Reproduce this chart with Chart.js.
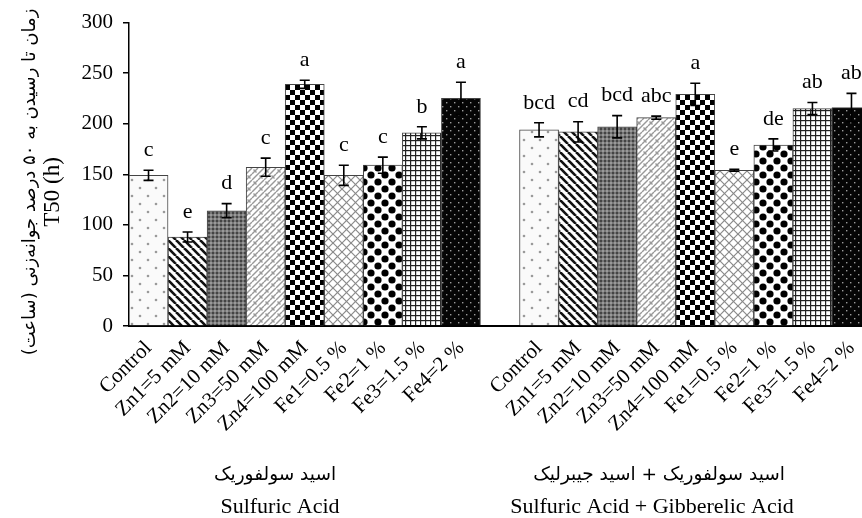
<!DOCTYPE html>
<html>
<head>
<meta charset="utf-8">
<script src="https://cdn.jsdelivr.net/npm/chart.js@4.4.1/dist/chart.umd.min.js"></script>
<style>
  html, body { margin: 0; padding: 0; background: #fff; overflow: hidden; }
  #wrap { width: 872px; height: 518px; }
</style>
</head>
<body>
<div id="wrap"><canvas id="chart" width="872" height="518"></canvas></div>
<script>
// Treatments (same order in both groups)
const categories = ['Control', 'Zn1=5 mM', 'Zn2=10 mM', 'Zn3=50 mM', 'Zn4=100 mM',
                    'Fe1=0.5 %', 'Fe2=1 %', 'Fe3=1.5 %', 'Fe4=2 %'];

// Sulfuric acid
const sulfuric = [149, 88, 114, 157, 239, 149, 159, 191, 225];
const sulfuricErr = [5, 5, 7, 9, 4, 10, 8, 6, 16];
const sulfuricLetters = ['c', 'e', 'd', 'c', 'a', 'c', 'c', 'b', 'a'];

// Sulfuric acid + gibberellic acid
const sulfuricGA = [194, 192, 197, 206, 229, 154, 179, 215, 216];
const sulfuricGAErr = [7, 10, 11, 1.5, 11, 1, 6, 6, 14];
const sulfuricGALetters = ['bcd', 'cd', 'bcd', 'abc', 'a', 'e', 'de', 'ab', 'ab'];

const yTicks = [0, 50, 100, 150, 200, 250, 300];

const groupTitles = [
    { fa: 'اسید سولفوریک', en: 'Sulfuric Acid' },
    { fa: 'اسید سولفوریک + اسید جیبرلیک', en: 'Sulfuric Acid + Gibberelic Acid' }
];
const yTitleFa = 'زمان تا رسیدن به ۵۰ درصد جوانه‌زنی (ساعت)';
const yTitleEn = 'T50 (h)';

// one empty slot between the two groups
const labels = categories.concat([''], categories);
const values = sulfuric.concat([null], sulfuricGA);
const errors = sulfuricErr.concat([null], sulfuricGAErr);
const letters = sulfuricLetters.concat([''], sulfuricGALetters);

const SERIF = "'Liberation Serif', 'Times New Roman', serif";
const FA = "'DejaVu Sans', sans-serif";

// ---- fill patterns ----
function makePattern(size, draw) {
    const c = document.createElement('canvas');
    c.width = size;
    c.height = size;
    const g = c.getContext('2d');
    draw(g, size);
    return g.createPattern(c, 'repeat');
}

function diag(g, s, dir) {
    for (let k = -s; k <= s; k += s) {
        g.beginPath();
        if (dir > 0) { g.moveTo(k, s); g.lineTo(k + s, 0); }
        else { g.moveTo(k, 0); g.lineTo(k + s, s); }
        g.stroke();
    }
}

const patterns = [
    // Control - sparse grey dots
    makePattern(16, (g, s) => {
        g.fillStyle = '#fafafa'; g.fillRect(0, 0, s, s);
        g.fillStyle = '#9a9a9a';
        [[4, 4], [12, 12]].forEach(p => { g.beginPath(); g.arc(p[0], p[1], 1.3, 0, Math.PI * 2); g.fill(); });
    }),
    // Zn1 - wide diagonal stripes
    makePattern(8, (g, s) => {
        g.fillStyle = '#fff'; g.fillRect(0, 0, s, s);
        g.strokeStyle = '#111'; g.lineWidth = 2.6;
        diag(g, s, -1);
    }),
    // Zn2 - dark fine mesh
    makePattern(4, (g, s) => {
        g.fillStyle = '#777'; g.fillRect(0, 0, s, s);
        g.fillStyle = '#444'; g.fillRect(0, 0, 2, 2);
        g.fillStyle = '#9a9a9a'; g.fillRect(2, 2, 2, 2);
    }),
    // Zn3 - diagonal brick
    makePattern(12, (g, s) => {
        g.fillStyle = '#fff'; g.fillRect(0, 0, s, s);
        g.strokeStyle = '#999'; g.lineWidth = 1.4;
        diag(g, s, 1);
        g.beginPath(); g.moveTo(0, 6); g.lineTo(6, 0); g.stroke();
        g.beginPath(); g.moveTo(6, 12); g.lineTo(12, 6); g.stroke();
        g.beginPath(); g.moveTo(1.5, 1.5); g.lineTo(4.5, 4.5); g.stroke();
        g.beginPath(); g.moveTo(7.5, 7.5); g.lineTo(10.5, 10.5); g.stroke();
    }),
    // Zn4 - checkerboard
    makePattern(10, (g, s) => {
        g.fillStyle = '#fff'; g.fillRect(0, 0, s, s);
        g.fillStyle = '#000';
        g.fillRect(0, 0, 5, 5); g.fillRect(5, 5, 5, 5);
    }),
    // Fe1 - grey crosshatch
    makePattern(9, (g, s) => {
        g.fillStyle = '#fff'; g.fillRect(0, 0, s, s);
        g.strokeStyle = '#8a8a8a'; g.lineWidth = 1.2;
        diag(g, s, 1); diag(g, s, -1);
    }),
    // Fe2 - black diamonds
    makePattern(14, (g, s) => {
        g.fillStyle = '#fff'; g.fillRect(0, 0, s, s);
        g.fillStyle = '#000';
        [[0, 0], [s, 0], [0, s], [s, s], [7, 7]].forEach(p => {
            g.beginPath(); g.arc(p[0], p[1], 3.6, 0, Math.PI * 2); g.fill();
        });
    }),
    // Fe3 - fine grid
    makePattern(5, (g, s) => {
        g.fillStyle = '#fff'; g.fillRect(0, 0, s, s);
        g.fillStyle = '#222';
        g.fillRect(0, 0, s, 1.2); g.fillRect(0, 0, 1.2, s);
    }),
    // Fe4 - black with small light dots
    makePattern(8, (g, s) => {
        g.fillStyle = '#050505'; g.fillRect(0, 0, s, s);
        g.fillStyle = '#9a9a9a';
        g.fillRect(2, 2, 1.4, 1.4); g.fillRect(6, 6, 1.4, 1.4);
    })
];
const fills = patterns.concat([null], patterns);

// ---- error bars, letters and titles ----
const extras = {
    id: 'extras',
    afterDatasetsDraw(chart) {
        const ctx = chart.ctx;
        const y = chart.scales.y;
        const meta = chart.getDatasetMeta(0);
        ctx.save();
        meta.data.forEach((bar, i) => {
            if (values[i] == null) return;
            const top = y.getPixelForValue(values[i] + errors[i]);
            const bot = y.getPixelForValue(values[i] - errors[i]);
            ctx.strokeStyle = '#000';
            ctx.lineWidth = 1.6;
            ctx.beginPath();
            ctx.moveTo(bar.x, top); ctx.lineTo(bar.x, bot);
            ctx.moveTo(bar.x - 5, top); ctx.lineTo(bar.x + 5, top);
            ctx.moveTo(bar.x - 5, bot); ctx.lineTo(bar.x + 5, bot);
            ctx.stroke();

            ctx.fillStyle = '#000';
            ctx.font = '22px ' + SERIF;
            ctx.textAlign = 'center';
            ctx.textBaseline = 'middle';
            ctx.fillText(letters[i], bar.x, top - 20);
        });
        ctx.restore();
    },
    afterDraw(chart) {
        const ctx = chart.ctx;
        ctx.save();
        ctx.fillStyle = '#000';
        ctx.textAlign = 'center';
        ctx.textBaseline = 'middle';

        // y axis titles
        ctx.save();
        ctx.translate(30, 182);
        ctx.rotate(-Math.PI / 2);
        ctx.font = '18px ' + FA;
        ctx.direction = 'rtl';
        ctx.fillText(yTitleFa, 0, 0);
        ctx.restore();

        ctx.save();
        ctx.translate(53, 192);
        ctx.rotate(-Math.PI / 2);
        ctx.font = '23px ' + SERIF;
        ctx.fillText(yTitleEn, 0, 0);
        ctx.restore();

        // group titles under the tick labels
        const faCentres = [275, 659];
        const enCentres = [280, 652];
        groupTitles.forEach((t, k) => {
            ctx.font = '18.5px ' + FA;
            ctx.direction = 'rtl';
            ctx.fillText(t.fa, faCentres[k], 475);
            ctx.direction = 'ltr';
            ctx.font = '22px ' + SERIF;
            ctx.fillText(t.en, enCentres[k], 507);
        });
        ctx.restore();
    }
};

new Chart(document.getElementById('chart'), {
    type: 'bar',
    data: {
        labels: labels,
        datasets: [{
            data: values,
            backgroundColor: fills,
            borderColor: '#444',
            borderWidth: 1,
            barPercentage: 1,
            categoryPercentage: 1
        }]
    },
    options: {
        responsive: false,
        animation: false,
        events: [],
        layout: { padding: { top: 22, right: 1, left: 0, bottom: 0 } },
        plugins: { legend: { display: false }, tooltip: { enabled: false } },
        scales: {
            x: {
                grid: { display: false },
                border: { color: '#000', width: 2 },
                ticks: {
                    color: '#000',
                    font: { family: SERIF, size: 21 },
                    minRotation: 45,
                    maxRotation: 45,
                    autoSkip: false,
                    padding: 2
                },
                afterFit: s => { s.height = 192; }
            },
            y: {
                min: 0,
                max: 300,
                afterBuildTicks: s => { s.ticks = yTicks.map(v => ({ value: v })); },
                grid: { drawOnChartArea: false, drawTicks: true, tickLength: 6, color: '#000', lineWidth: 1.5 },
                border: { color: '#000', width: 1.5 },
                ticks: {
                    color: '#000',
                    font: { family: SERIF, size: 21 },
                    padding: 10
                },
                afterFit: s => { s.width = 129; }
            }
        }
    },
    plugins: [extras]
});
</script>
</body>
</html>
